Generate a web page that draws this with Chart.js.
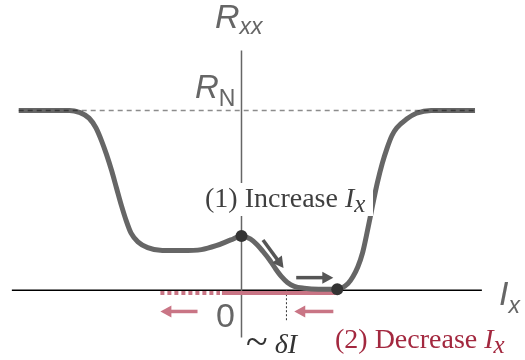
<!DOCTYPE html>
<html>
<head>
<meta charset="utf-8">
<script src="https://cdn.jsdelivr.net/npm/chart.js@4.4.1/dist/chart.umd.min.js"></script>
<style>
  html, body { margin: 0; padding: 0; background: #fff; }
  #wrap { width: 525px; height: 360px; }
</style>
</head>
<body>
<div id="wrap"><canvas id="chart"></canvas></div>
<script>
// schematic R_xx(I_x) sweep, arbitrary units (I = 0 at the vertical axis)
const currentI = [-228, -176, -166, -156, -149, -143, -138, -133, -128, -123, -118, -113, -106, -96, -81, -61, -41, -26, -11, 0,
  9, 16, 22, 29, 35, 41, 47, 54, 64, 79, 98,
  109, 114, 119, 124, 129, 134, 139, 144, 149, 154, 159, 169, 179, 194, 239];
const resistance = [186, 186, 184, 178, 168, 154, 140, 124, 106, 88, 72, 59, 50, 44, 41, 41, 42, 46, 52, 56,
  53, 47, 40, 31, 22, 14, 8, 4, 2, 1, 1,
  7, 14, 24, 39, 62, 87, 111, 131, 147, 160, 168, 177, 183, 186, 186];
const normalR = 186;
const switchI = [0, 98];
const switchR = [56, 1];
const decreaseSolidI = [-20, 96];
const decreaseDottedI = [-83, -22];
const deltaI = 46;

const GRAY = '#666666';
const PINK = '#c97585';
const CRIMSON = '#a3283f';

const xy = (xs, ys) => xs.map((x, i) => ({ x, y: ys[i] }));

function arrow(ctx, x1, y1, x2, y2, color) {
  const a = Math.atan2(y2 - y1, x2 - x1);
  const head = 11;
  ctx.save();
  ctx.strokeStyle = color;
  ctx.fillStyle = color;
  ctx.lineWidth = 3.5;
  ctx.beginPath();
  ctx.moveTo(x1, y1);
  ctx.lineTo(x2 - Math.cos(a) * head * 0.8, y2 - Math.sin(a) * head * 0.8);
  ctx.stroke();
  ctx.beginPath();
  ctx.moveTo(x2, y2);
  ctx.lineTo(x2 - head * Math.cos(a) + 6 * Math.sin(a), y2 - head * Math.sin(a) - 6 * Math.cos(a));
  ctx.lineTo(x2 - head * Math.cos(a) - 6 * Math.sin(a), y2 - head * Math.sin(a) + 6 * Math.cos(a));
  ctx.closePath();
  ctx.fill();
  ctx.restore();
}

// parts: [text, font, dy]
function rich(ctx, parts, x, y, color) {
  ctx.save();
  ctx.fillStyle = color;
  ctx.textBaseline = 'alphabetic';
  ctx.textAlign = 'left';
  let cx = x;
  parts.forEach(([t, f, dy]) => {
    ctx.font = f;
    ctx.fillText(t, cx, y + (dy || 0));
    cx += ctx.measureText(t).width;
  });
  ctx.restore();
  return cx;
}

const sketch = {
  id: 'sketch',
  beforeDatasetsDraw(chart) {
    const { ctx } = chart;
    const sx = chart.scales.x, sy = chart.scales.y;
    ctx.save();
    // I axis
    ctx.strokeStyle = '#000';
    ctx.lineWidth = 1.5;
    ctx.beginPath();
    ctx.moveTo(sx.getPixelForValue(-235), sy.getPixelForValue(0));
    ctx.lineTo(sx.getPixelForValue(246), sy.getPixelForValue(0));
    ctx.stroke();
    // R axis
    ctx.strokeStyle = GRAY;
    ctx.beginPath();
    ctx.moveTo(sx.getPixelForValue(0), sy.getPixelForValue(248));
    ctx.lineTo(sx.getPixelForValue(0), sy.getPixelForValue(-49));
    ctx.stroke();
    // ~dI marker
    ctx.strokeStyle = '#333';
    ctx.lineWidth = 1;
    ctx.setLineDash([2, 2]);
    ctx.beginPath();
    ctx.moveTo(sx.getPixelForValue(deltaI), sy.getPixelForValue(0));
    ctx.lineTo(sx.getPixelForValue(deltaI), sy.getPixelForValue(-33));
    ctx.stroke();
    ctx.restore();
  },
  afterDatasetsDraw(chart) {
    const { ctx } = chart;
    const sx = chart.scales.x, sy = chart.scales.y;
    const px = v => sx.getPixelForValue(v), py = v => sy.getPixelForValue(v);

    arrow(ctx, px(22), py(52), px(43), py(23), '#555');
    arrow(ctx, px(56), py(13), px(94), py(13), '#555');
    arrow(ctx, px(-45), py(-22), px(-83), py(-22), PINK);
    arrow(ctx, px(94), py(-22), px(54), py(-22), PINK);

    const sans = 'Liberation Sans, Arial, sans-serif';
    const serif = 'Liberation Serif, Times New Roman, serif';

    // axis labels
    rich(ctx, [['R', 'italic 34px ' + sans], ['xx', 'italic 23px ' + sans, 6]], 215, 28, GRAY);
    rich(ctx, [['R', 'italic 33px ' + sans], ['N', '23px ' + sans, 8]], 195, 98, GRAY);
    rich(ctx, [['I', 'italic 34px ' + sans], ['x', 'italic 23px ' + sans, 8]], 499, 305, GRAY);
    rich(ctx, [['0', '34px ' + sans]], 216, 327, GRAY);

    // step labels
    ctx.save();
    ctx.fillStyle = '#fff';
    ctx.fillRect(203, 183, 170, 33);
    ctx.restore();
    rich(ctx, [['(1) Increase ', '28px ' + serif], ['I', 'italic 28px ' + serif], ['x', 'italic 25px ' + serif, 5]], 205, 207, '#3f3f3f');
    rich(ctx, [['(2) Decrease ', '28px ' + serif], ['I', 'italic 28px ' + serif], ['x', 'italic 25px ' + serif, 5]], 335, 348, CRIMSON);
    rich(ctx, [['~', '40px ' + serif, 2], [' \u03b4I', 'italic 28px ' + serif]], 246, 353, '#333');
  }
};

new Chart(document.getElementById('chart').getContext('2d'), {
  type: 'scatter',
  data: {
    datasets: [
      {
        // R_N reference (drawn over the curve)
        data: [{ x: currentI[0], y: normalR }, { x: currentI[currentI.length - 1], y: normalR }],
        showLine: true,
        borderColor: 'rgba(0, 0, 0, 0.45)',
        borderWidth: 1.5,
        borderDash: [5, 4],
        pointRadius: 0,
        order: 0,
      },
      {
        data: xy(switchI, switchR),
        pointRadius: 6,
        backgroundColor: '#333',
        borderWidth: 0,
        order: 1,
      },
      {
        data: xy(currentI, resistance),
        showLine: true,
        borderColor: GRAY,
        borderWidth: 5,
        pointRadius: 0,
        cubicInterpolationMode: 'monotone',
        order: 2,
      },
      {
        data: xy(decreaseSolidI, [-3, -3]),
        showLine: true,
        borderColor: PINK,
        borderWidth: 4,
        pointRadius: 0,
        order: 3,
      },
      {
        data: xy(decreaseDottedI, [-3, -3]),
        showLine: true,
        borderColor: PINK,
        borderWidth: 4,
        borderDash: [4, 3],
        pointRadius: 0,
        order: 4,
      },
    ],
  },
  options: {
    responsive: true,
    maintainAspectRatio: false,
    animation: false,
    layout: { padding: 0 },
    plugins: { legend: { display: false }, tooltip: { enabled: false } },
    scales: {
      x: { type: 'linear', display: false, min: -241, max: 284 },
      y: { type: 'linear', display: false, min: -66, max: 294 },
    },
  },
  plugins: [sketch],
});
</script>
</body>
</html>
